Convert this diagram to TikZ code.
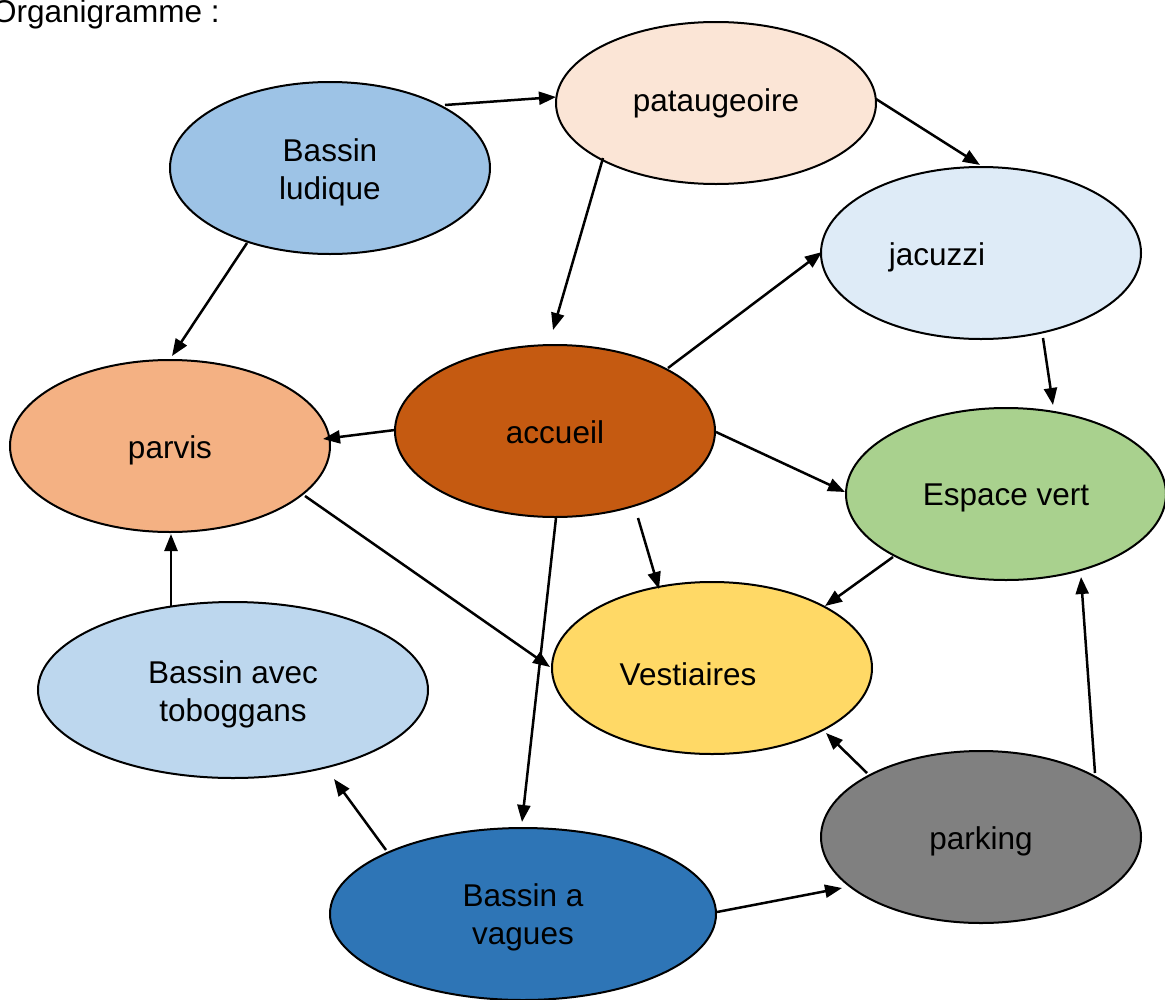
\documentclass[tikz,border=0pt]{standalone}
\usepackage{fontspec}
\setmainfont{Liberation Sans}
\usetikzlibrary{shapes.geometric,calc,arrows.meta}
\definecolor{cLud}{HTML}{9DC3E6}
\definecolor{cPat}{HTML}{FBE5D6}
\definecolor{cJac}{HTML}{DEEBF7}
\definecolor{cParv}{HTML}{F4B183}
\definecolor{cAcc}{HTML}{C55A11}
\definecolor{cEsp}{HTML}{A9D18E}
\definecolor{cTob}{HTML}{BDD7EE}
\definecolor{cVest}{HTML}{FFD966}
\definecolor{cPark}{HTML}{808080}
\definecolor{cVag}{HTML}{2E75B6}
\begin{document}
\begin{tikzpicture}[x=1pt,y=-1pt,
  el/.style={ellipse, draw=black, line width=2pt, inner sep=0pt,
    minimum width=320pt, minimum height=172pt},
  txt/.style={inner sep=0pt, font=\fontsize{31.5}{38}\selectfont, align=center},
  arr/.style={line width=2.5pt, -{Triangle[length=17pt,width=13pt]}}]
\useasboundingbox (0,0) rectangle (1165,999);

\node[txt, anchor=base west] (title) at (-8,22) {Organigramme :};

\node[el, fill=cLud] (lud) at (330,168) {};
\node[txt] (ludt) at (330,172) {Bassin\\ludique};
\node[el, fill=cPat, minimum height=162pt] (pat) at (716,103) {};
\node[txt] (patt) at (716,103) {pataugeoire};
\node[el, fill=cJac] (jac) at (981,253) {};
\node[txt] (jact) at (937,257) {jacuzzi};
\node[el, fill=cParv] (parv) at (170,446) {};
\node[txt] (parvt) at (170,450) {parvis};
\node[el, fill=cAcc] (acc) at (555,431) {};
\node[txt] (acct) at (555,432) {accueil};
\node[el, fill=cEsp] (esp) at (1006,494) {};
\node[txt] (espt) at (1006,498) {Espace vert};
\node[el, fill=cTob, minimum width=390pt, minimum height=176pt] (tob) at (233,690) {};
\node[txt] (tobt) at (233,694) {Bassin avec\\toboggans};
\node[el, fill=cVest] (vest) at (712,668) {};
\node[txt] (vestt) at (688,674) {Vestiaires};
\node[el, fill=cPark] (park) at (981,837) {};
\node[txt] (parkt) at (981,841) {parking};
\node[el, fill=cVag, minimum width=386pt] (vag) at (523,914) {};
\node[txt] (vagt) at (523,917) {Bassin a\\vagues};

\draw[arr] ($(lud)+(115,-63)$) -- ($(pat)+(-160,-6)$);
\draw[arr] ($(lud)+(-83,75)$) -- ($(parv)+(2,-90)$);
\draw[arr] ($(pat)+(-113,55)$) -- ($(acc)+(-2,-101)$);
\draw[arr] ($(pat)+(160,-4)$) -- ($(jac)+(-1,-88)$);
\draw[arr] ($(acc)+(113,-63)$) -- ($(jac)+(-159,-1)$);
\draw[arr] ($(jac)+(62,85)$) -- ($(esp)+(47,-89)$);
\draw[arr] ($(acc)+(-160,-1)$) -- ($(parv)+(153,-7)$);
\draw[arr] ($(acc)+(161,1)$) -- ($(esp)+(-161,-2)$);
\draw[arr] ($(acc)+(83,87)$) -- ($(vest)+(-53,-79)$);
\draw[arr] ($(acc)+(1,87)$) -- ($(vag)+(-1,-92)$);
\draw[arr] ($(parv)+(135,50)$) -- ($(vest)+(-162,-1)$);
\draw[arr] ($(tob)+(-62,-83)$) -- ($(parv)+(1,88)$);
\draw[arr] ($(esp)+(-113,63)$) -- ($(vest)+(113,-62)$);
\draw[arr] ($(park)+(-114,-64)$) -- ($(vest)+(114,65)$);
\draw[arr] ($(park)+(114,-64)$) -- ($(esp)+(75,83)$);
\draw[arr] ($(vag)+(-137,-64)$) -- ($(tob)+(101,89)$);
\draw[arr] ($(vag)+(194,-2)$) -- ($(park)+(-139,51)$);
\end{tikzpicture}
\end{document}
